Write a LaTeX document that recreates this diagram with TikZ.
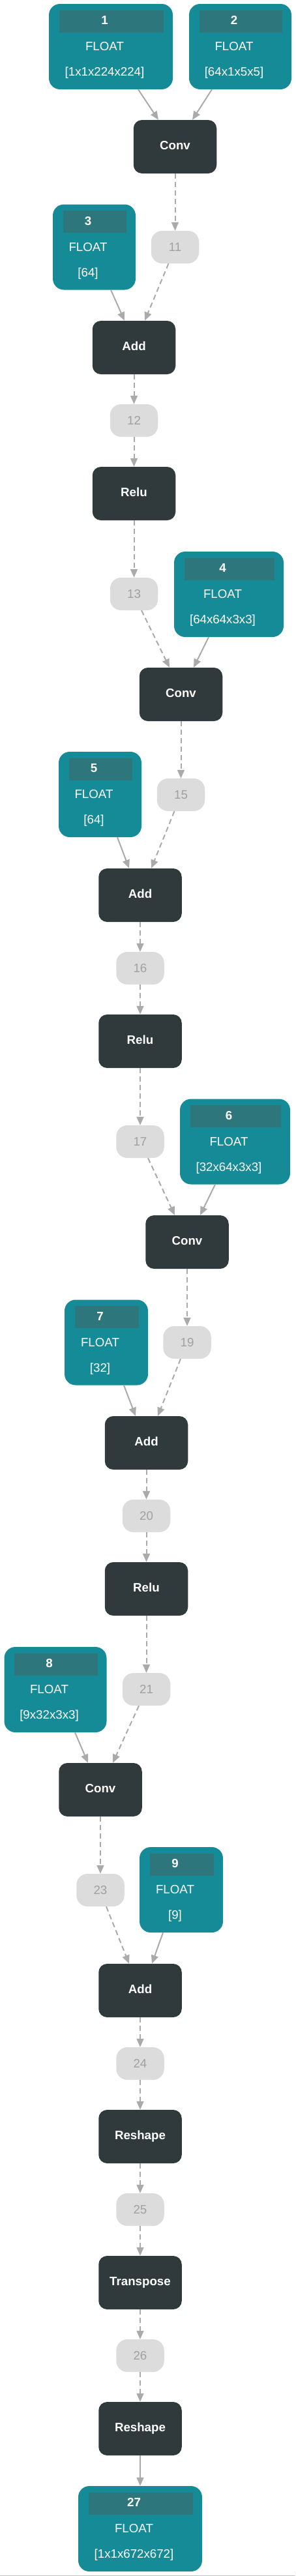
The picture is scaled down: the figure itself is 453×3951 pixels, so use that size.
\documentclass[tikz,border=0pt]{standalone}
\usepackage{fontspec}
\setmainfont{Liberation Sans}
\usetikzlibrary{arrows.meta}

\definecolor{tealbox}{HTML}{168B98}
\definecolor{tealhead}{HTML}{2D777C}
\definecolor{opfill}{HTML}{30393B}
\definecolor{valfill}{HTML}{DCDCDC}
\definecolor{valtext}{HTML}{A0A0A0}
\definecolor{edgegray}{HTML}{AAAAAA}

% tensor box: name, x, y, width, id, dims
\newcommand{\tensornode}[6]{%
  \node[tensorbox, minimum width=#4pt] (#1) at (#2,#3) {};
  \fill[tealhead] ([xshift=16pt,yshift=-10pt]#1.north west) rectangle ([xshift=-14pt,yshift=-44pt]#1.north east);
  \node[headtext] (#1-id) at ([xshift=-9.5pt,yshift=-31.7pt]#1.north) {#5};
  \node[tensortext] (#1-type) at ([xshift=-9.5pt,yshift=-71.7pt]#1.north) {FLOAT};
  \node[tensortext] (#1-dims) at ([xshift=-9.5pt,yshift=-110.7pt]#1.north) {#6};
}

\begin{document}
\begin{tikzpicture}[x=1pt, y=-1pt,
    font=\fontsize{18.7}{22}\selectfont,
    opbox/.style={fill=opfill, rounded corners=13pt, minimum width=127.5pt, minimum height=82pt,
      text=white, font=\fontsize{18.7}{22}\selectfont\bfseries, text height=13.4pt, text depth=4pt, inner sep=0pt},
    valbox/.style={fill=valfill, rounded corners=17pt, minimum width=73.5pt, minimum height=50pt,
      text=valtext, text height=13.4pt, text depth=1pt, inner sep=0pt},
    tensorbox/.style={fill=tealbox, rounded corners=17pt, minimum height=131pt, inner sep=0pt},
    headtext/.style={anchor=base, text=white, font=\fontsize{18.7}{22}\selectfont\bfseries, inner sep=0pt},
    tensortext/.style={anchor=base, text=white, inner sep=0pt},
    flow/.style={draw=edgegray, line width=2pt, -{Triangle[length=13pt, width=11pt]}},
    dflow/.style={flow, dash pattern=on 8pt off 5pt}]
  \useasboundingbox (0,0) rectangle (453,3951);

  % inputs and weights
  \tensornode{in1}{170}{71.5}{190}{1}{[1x1x224x224]}
  \tensornode{in2}{368.5}{71.5}{157}{2}{[64x1x5x5]}
  \tensornode{in3}{144.5}{379}{127}{3}{[64]}
  \tensornode{in4}{351}{911.5}{168}{4}{[64x64x3x3]}
  \tensornode{in5}{153.5}{1218.5}{127}{5}{[64]}
  \tensornode{in6}{360.5}{1751}{169}{6}{[32x64x3x3]}
  \tensornode{in7}{163}{2059}{128}{7}{[32]}
  \tensornode{in8}{85}{2591.5}{157}{8}{[9x32x3x3]}
  \tensornode{in9}{278}{2898.5}{128}{9}{[9]}
  \tensornode{out27}{215}{3878.5}{190}{27}{[1x1x672x672]}

  % operators
  \node[opbox] (conv1) at (268.5,225) {Conv};
  \node[opbox] (add1) at (205.5,533) {Add};
  \node[opbox] (relu1) at (205.5,757) {Relu};
  \node[opbox] (conv2) at (277.5,1065) {Conv};
  \node[opbox] (add2) at (215,1373) {Add};
  \node[opbox] (relu2) at (215,1597) {Relu};
  \node[opbox] (conv3) at (287,1905) {Conv};
  \node[opbox] (add3) at (224.5,2213) {Add};
  \node[opbox] (relu3) at (224.5,2437) {Relu};
  \node[opbox] (conv4) at (154,2745) {Conv};
  \node[opbox] (add4) at (215,3053) {Add};
  \node[opbox] (reshape1) at (215,3277) {Reshape};
  \node[opbox] (transpose) at (215,3501) {Transpose};
  \node[opbox] (reshape2) at (215,3725) {Reshape};

  % intermediate values
  \foreach \n/\x/\y in {11/268.5/379, 12/205.5/645, 13/205.5/911, 15/277.5/1219, 16/215/1485,
      17/215/1751, 19/287/2059, 20/224.5/2325, 21/224.5/2591, 23/154/2899, 24/215/3165,
      25/215/3389, 26/215/3613}
    \node[valbox] (t\n) at (\x,\y) {\n};

  % straight dashed links
  \foreach \a/\b in {conv1/t11, add1/t12, t12/relu1, relu1/t13, conv2/t15, add2/t16, t16/relu2,
      relu2/t17, conv3/t19, add3/t20, t20/relu3, relu3/t21, conv4/t23, add4/t24, t24/reshape1,
      reshape1/t25, t25/transpose, transpose/t26, t26/reshape2}
    \draw[dflow] (\a) -- (\b);

  % slanted links: source, target, offsets
  \foreach \a/\b/\s/\e in {in1/conv1/42/-25.5, in2/conv1/-43.5/26.5, in3/add1/25.5/-14.5,
      in4/conv2/-31/19.5, in5/add2/26.5/-17, in6/conv3/-30.5/20, in7/add3/27/-16.5,
      in8/conv4/30/-19, in9/add4/-28/18}
    \draw[flow] ([xshift=\s pt]\a.south) -- ([xshift=\e pt]\b.north);
  \foreach \a/\b/\s/\e in {t11/add1/-10/16.5, t13/conv2/11.5/-17.5, t15/add2/-10/17,
      t17/conv3/12/-19, t19/add3/-10/17.5, t21/conv4/-11.5/19, t23/add4/9/-17}
    \draw[dflow] ([xshift=\s pt]\a.south) -- ([xshift=\e pt]\b.north);
  \draw[flow] (reshape2) -- (out27);

  \draw[edgegray!70, line width=1pt] (0,3950) -- (453,3950);
\end{tikzpicture}
\end{document}
